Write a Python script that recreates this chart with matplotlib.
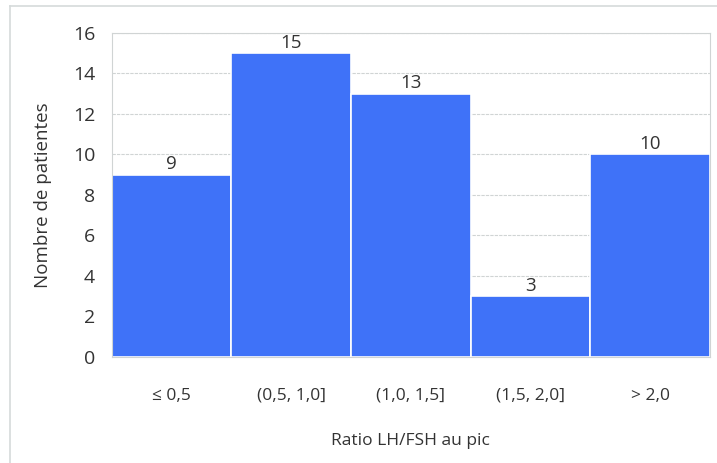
import matplotlib.pyplot as plt
from matplotlib.lines import Line2D

plt.rcParams['font.family'] = ['Open Sans', 'DejaVu Sans']

categories = ['≤ 0,5', '(0,5, 1,0]', '(1,0, 1,5]', '(1,5, 2,0]', '> 2,0']
counts = [9, 15, 13, 3, 10]

bar_color = '#3F72F8'
text_color = '#333333'
grid_color = '#d0d4d4'

fig = plt.figure(figsize=(7.17, 4.63), dpi=100)
ax = fig.add_axes([0.156, 0.229, 0.834, 0.70])

x = range(len(categories))
bars = ax.bar(x, counts, width=1.0, color=bar_color, edgecolor='white', linewidth=1.2, zorder=2)

for xi, v in zip(x, counts):
    ax.annotate(str(v), (xi, v), xytext=(0, 1), textcoords='offset points',
                ha='center', va='bottom', fontsize=13.5, color=text_color)

ax.set_xlim(-0.5, len(categories) - 0.5)
ax.set_ylim(0, 16)
ax.set_yticks(range(0, 17, 2))
ax.set_xticks(list(x))
ax.set_xticklabels(categories, fontsize=12.5, color=text_color)
ax.tick_params(axis='y', labelsize=14, labelcolor=text_color, length=0, pad=12)
ax.tick_params(axis='x', length=0, pad=22)
ax.yaxis.grid(True, color=grid_color, linestyle=(0, (3, 1)), linewidth=0.8, zorder=0)
ax.set_axisbelow(True)
for s in ax.spines.values():
    s.set_color(grid_color)
    s.set_linewidth(0.8)

ax.set_xlabel('Ratio LH/FSH au pic', fontsize=12.5, color=text_color, labelpad=21)
ax.set_ylabel('Nombre de patientes', fontsize=13.5, color=text_color, labelpad=15)

# outer frame of the chart (left and top only, the picture is cropped)
fig.add_artist(Line2D([10 / 717, 10 / 717], [0, 1 - 6 / 463], transform=fig.transFigure,
                      color='#d5dada', linewidth=1.2))
fig.add_artist(Line2D([10 / 717, 1], [1 - 6 / 463, 1 - 6 / 463], transform=fig.transFigure,
                      color='#d5dada', linewidth=1.2))

fig.savefig('out.png', dpi=100)
